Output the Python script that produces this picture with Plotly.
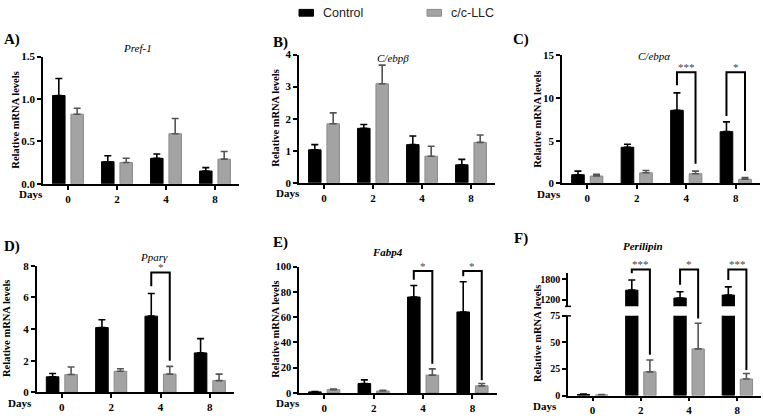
import plotly.graph_objects as go

W, H = 763, 419
days = ["0", "2", "4", "8"]

# ---------------- data ----------------
# A) Pref-1
pref1_ctrl = [1.04, 0.26, 0.30, 0.15]
pref1_ctrl_err = [0.20, 0.07, 0.05, 0.04]
pref1_llc = [0.82, 0.25, 0.59, 0.29]
pref1_llc_err = [0.07, 0.05, 0.18, 0.09]

# B) C/ebpβ
cebpb_ctrl = [1.03, 1.70, 1.19, 0.56]
cebpb_ctrl_err = [0.16, 0.12, 0.27, 0.17]
cebpb_llc = [1.84, 3.09, 0.83, 1.26]
cebpb_llc_err = [0.34, 0.58, 0.31, 0.23]

# C) C/ebpα
cebpa_ctrl = [1.02, 4.24, 8.56, 6.06]
cebpa_ctrl_err = [0.42, 0.34, 2.04, 1.14]
cebpa_llc = [0.87, 1.25, 1.14, 0.49]
cebpa_llc_err = [0.19, 0.27, 0.30, 0.19]

# D) Pparγ
pparg_ctrl = [0.98, 4.09, 4.81, 2.49]
pparg_ctrl_err = [0.21, 0.49, 1.43, 0.90]
pparg_llc = [1.12, 1.33, 1.15, 0.74]
pparg_llc_err = [0.48, 0.16, 0.49, 0.41]

# E) Fabp4
fabp4_ctrl = [0.8, 7.4, 75.9, 64.1]
fabp4_ctrl_err = [0.3, 2.9, 9.2, 23.9]
fabp4_llc = [2.6, 1.5, 14.1, 5.6]
fabp4_llc_err = [0.5, 0.6, 4.9, 1.8]

# F) Perilipin
plin_ctrl = [1.0, 1481, 1248, 1335]
plin_ctrl_err = [0.3, 300, 184, 243]
plin_llc = [0.6, 22.3, 43.9, 15.5]
plin_llc_err = [0.3, 11.2, 24.1, 5.2]

# significance brackets (day index, bracket top, left-leg end, right-leg end, label)
cebpa_sig_idx = [2, 3]
cebpa_sig_top = [13.0, 13.0]
cebpa_sig_left = [11.5, 7.9]
cebpa_sig_right = [2.3, 1.45]
cebpa_sig_label = ["***", "*"]

pparg_sig_idx = [2]
pparg_sig_top = [7.57]
pparg_sig_left = [6.7]
pparg_sig_right = [2.0]
pparg_sig_label = ["*"]

fabp4_sig_idx = [2, 3]
fabp4_sig_top = [96.6, 96.6]
fabp4_sig_left = [89.6, 92.3]
fabp4_sig_right = [23.1, 10.0]
fabp4_sig_label = ["*", "*"]

plin_sig_idx = [1, 2, 3]
plin_sig_top = [2095, 2095, 2095]      # upper (broken) axis
plin_sig_left = [1980, 1637, 1782]     # upper axis
plin_sig_right = [38.4, 72.5, 24.0]    # lower axis
plin_sig_label = ["***", "*", "***"]

# ---------------- styling / geometry ----------------
SERIF = "Liberation Serif, Times New Roman, serif"
SANS = "Liberation Sans, Arial, sans-serif"
BLACK = "#000000"
GREY = "#a3a3a3"
GREY_LINE = "#8a8a8a"
GREY_ERR = "#555555"
STAR = "#444444"
BAR_W = 0.255
OFF_CTRL = -0.315
OFF_LLC = 0.06
C_CTRL = OFF_CTRL + BAR_W / 2
C_LLC = OFF_LLC + BAR_W / 2
X_RANGE = [-0.51, 3.49]


def X(p):
    return p / W


def Y(p):
    return 1 - p / H


fig = go.Figure()


def add_bars(xa, ya, ctrl, ctrl_err, llc, llc_err):
    fig.add_trace(go.Bar(
        x=days, y=ctrl, width=BAR_W, offset=OFF_CTRL, xaxis=xa, yaxis=ya,
        name="Control", showlegend=False,
        marker=dict(color=BLACK, line=dict(color=BLACK, width=1)),
        error_y=dict(type="data", array=ctrl_err, arrayminus=[0] * len(ctrl),
                     symmetric=False, color=BLACK, thickness=1.6, width=3.5)))
    fig.add_trace(go.Bar(
        x=days, y=llc, width=BAR_W, offset=OFF_LLC, xaxis=xa, yaxis=ya,
        name="c/c-LLC", showlegend=False,
        marker=dict(color=GREY, line=dict(color=GREY_LINE, width=1)),
        error_y=dict(type="data", array=llc_err, arrayminus=[0] * len(llc),
                     symmetric=False, color=GREY_ERR, thickness=1.6, width=3.5)))


def ax_style(size=11):
    return dict(showline=True, linecolor=BLACK, linewidth=1.5, ticks="outside",
                ticklen=4, tickwidth=1.5, tickcolor=BLACK, showgrid=False,
                zeroline=False, fixedrange=True,
                tickfont=dict(family=SERIF, size=size, color=BLACK, weight="bold"))


annotations = []
shapes = []

# panel geometry in pixels: x-domain, y-domain(top,bottom)
panels = [
    dict(n="", letter="A)", title="<i>Pref-1</i>", xd=(43, 239), yd=(52, 183),
         yr=[0, 1.5], tv=[0, 0.5, 1.0, 1.5], tt=["0.0", "0.5", "1.0", "1.5"],
         data=(pref1_ctrl, pref1_ctrl_err, pref1_llc, pref1_llc_err),
         lpos=(2, 35), tpos=(137, 43), ytx=15.5, fs=11, days_x=45),
    dict(n="2", letter="B)", title="<i>C/ebpβ</i>", xd=(299, 495), yd=(50, 182),
         yr=[0, 4], tv=[0, 1, 2, 3, 4], tt=None,
         data=(cebpb_ctrl, cebpb_ctrl_err, cebpb_llc, cebpb_llc_err),
         lpos=(271, 38), tpos=(393, 54), ytx=276, fs=11, days_x=301.5),
    dict(n="3", letter="C)", title="<i>C/ebpα</i>", xd=(562, 760), yd=(50.7, 182.7),
         yr=[0, 15], tv=[0, 5, 10, 15], tt=None,
         data=(cebpa_ctrl, cebpa_ctrl_err, cebpa_llc, cebpa_llc_err),
         lpos=(511, 35), tpos=(654, 51), ytx=537.5, fs=11, days_x=563),
    dict(n="4", letter="D)", title="<i>Pparγ</i>", xd=(36.7, 234), yd=(267.3, 397.7),
         yr=[0, 8], tv=[0, 2, 4, 6, 8], tt=None,
         data=(pparg_ctrl, pparg_ctrl_err, pparg_llc, pparg_llc_err),
         lpos=(1.5, 248), tpos=(154, 258), ytx=7, fs=11, days_x=33.5),
    dict(n="5", letter="E)", title="<b><i>Fabp4</i></b>", xd=(299, 496.7), yd=(268.3, 398.3),
         yr=[0, 100], tv=[0, 20, 40, 60, 80, 100], tt=None,
         data=(fabp4_ctrl, fabp4_ctrl_err, fabp4_llc, fabp4_llc_err),
         lpos=(271, 243), tpos=(387, 253), ytx=276, fs=10.5, days_x=301.5),
    dict(n="6", letter="F)", title="<b><i>Perilipin</i></b>", xd=(568, 761), yd=(319, 401),
         yr=[0, 75], tv=[0, 25, 50, 75], tt=None,
         data=(plin_ctrl, plin_ctrl_err, plin_llc, plin_llc_err),
         lpos=(512, 239), tpos=(643, 247.5), ytx=537, fs=10, days_x=558.5),
]

F_UP = (274.5, 309.2)
F_UP_R = [1000, 2000]

layout_axes = {}
for p in panels:
    n = p["n"]
    xa, ya = "x" + n, "y" + n
    add_bars(xa, ya, *p["data"])
    xs = ax_style(11)
    xs.update(domain=[X(p["xd"][0]), X(p["xd"][1])], range=X_RANGE, anchor=ya,
              type="category", categoryorder="array", categoryarray=days)
    ys = ax_style(p["fs"])
    ys.update(domain=[Y(p["yd"][1]), Y(p["yd"][0])], range=p["yr"], anchor=xa,
              tickvals=p["tv"])
    if p["tt"]:
        ys["ticktext"] = p["tt"]
    layout_axes["xaxis" + n] = xs
    layout_axes["yaxis" + n] = ys

    annotations.append(dict(text="<b>%s</b>" % p["letter"], xref="paper", yref="paper",
                            x=X(p["lpos"][0]), y=Y(p["lpos"][1]), xanchor="left",
                            yanchor="middle", showarrow=False,
                            font=dict(family=SERIF, size=15, color=BLACK)))
    annotations.append(dict(text=p["title"], xref="paper", yref="paper",
                            x=X(p["tpos"][0]), y=Y(p["tpos"][1]), xanchor="center",
                            yanchor="middle", showarrow=False,
                            font=dict(family=SERIF, size=11, color=BLACK)))
    ytop = p["yd"][0] if n != "6" else F_UP[0]
    annotations.append(dict(text="<b>Relative mRNA levels</b>", xref="paper", yref="paper",
                            x=X(p["ytx"]), y=Y((ytop + p["yd"][1]) / 2), textangle=-90,
                            xanchor="center", yanchor="middle", showarrow=False,
                            font=dict(family=SERIF, size=10.5, color=BLACK)))
    annotations.append(dict(text="<b>Days</b>", xref="paper", yref="paper",
                            x=X(p["days_x"]), y=Y(p["yd"][1] + 10.5), xanchor="right",
                            yanchor="middle", showarrow=False,
                            font=dict(family=SERIF, size=11, color=BLACK)))

# F: upper segment of broken axis
fig.add_trace(go.Bar(
    x=days, y=plin_ctrl, width=BAR_W, offset=OFF_CTRL, xaxis="x6", yaxis="y7",
    name="Control", showlegend=False,
    marker=dict(color=BLACK, line=dict(color=BLACK, width=1)),
    error_y=dict(type="data", array=plin_ctrl_err, arrayminus=[0] * 4,
                 symmetric=False, color=BLACK, thickness=1.6, width=3.5)))
ys7 = ax_style(10)
ys7.update(domain=[Y(F_UP[1]), Y(F_UP[0])], range=F_UP_R, anchor="x6",
           tickvals=[1200, 1800])
layout_axes["yaxis7"] = ys7


# brackets for panels with one y axis
def brackets(xa, ya, idx, top, left, right, labels):
    for i, t, l, r, lab in zip(idx, top, left, right, labels):
        xl, xr = i + C_CTRL, i + C_LLC
        shapes.append(dict(type="path", xref=xa, yref=ya,
                           path="M %f,%f L %f,%f L %f,%f L %f,%f" % (xl, l, xl, t, xr, t, xr, r),
                           line=dict(color=BLACK, width=2)))
        annotations.append(dict(text=lab, xref=xa, yref=ya, x=(xl + xr) / 2, y=t,
                                xanchor="center", yanchor="bottom", yshift=-3,
                                showarrow=False,
                                font=dict(family=SERIF, size=11, color=STAR)))


brackets("x3", "y3", cebpa_sig_idx, cebpa_sig_top, cebpa_sig_left, cebpa_sig_right, cebpa_sig_label)
brackets("x4", "y4", pparg_sig_idx, pparg_sig_top, pparg_sig_left, pparg_sig_right, pparg_sig_label)
brackets("x5", "y5", fabp4_sig_idx, fabp4_sig_top, fabp4_sig_left, fabp4_sig_right, fabp4_sig_label)


# F brackets span both segments of the broken axis -> map values to paper
def f_lower(v):
    d0, d1 = panels[5]["yd"][1], panels[5]["yd"][0]
    r0, r1 = panels[5]["yr"]
    return Y(d0 + (v - r0) / (r1 - r0) * (d1 - d0))


def f_upper(v):
    d0, d1 = F_UP[1], F_UP[0]
    r0, r1 = F_UP_R
    return Y(d0 + (v - r0) / (r1 - r0) * (d1 - d0))


for i, t, l, r, lab in zip(plin_sig_idx, plin_sig_top, plin_sig_left, plin_sig_right, plin_sig_label):
    xl, xr = i + C_CTRL, i + C_LLC
    shapes.append(dict(type="path", xref="x6", yref="paper",
                       path="M %f,%f L %f,%f L %f,%f L %f,%f" % (
                           xl, f_upper(l), xl, f_upper(t), xr, f_upper(t), xr, f_lower(r)),
                       line=dict(color=BLACK, width=2)))
    annotations.append(dict(text=lab, xref="x6", yref="paper", x=(xl + xr) / 2, y=f_upper(t),
                            xanchor="center", yanchor="bottom", yshift=-3, showarrow=False,
                            font=dict(family=SERIF, size=11, color=STAR)))

# axis-break marks on F
fx = panels[5]["xd"][0]
shapes.append(dict(type="line", xref="paper", yref="paper", x0=X(fx - 3), x1=X(fx + 3),
                   y0=Y(panels[5]["yd"][0]), y1=Y(panels[5]["yd"][0]),
                   line=dict(color=BLACK, width=1.5)))
shapes.append(dict(type="line", xref="paper", yref="paper", x0=X(fx - 3), x1=X(fx + 3),
                   y0=Y(F_UP[1]), y1=Y(F_UP[1]), line=dict(color=BLACK, width=1.5)))

# legend (drawn)
legend_names = ["Control", "c/c-LLC"]
legend_cols = [BLACK, GREY]
legend_x = [299, 427]
for name, col, lx in zip(legend_names, legend_cols, legend_x):
    shapes.append(dict(type="rect", xref="paper", yref="paper", x0=X(lx), x1=X(lx + 14.5),
                       y0=Y(10.5), y1=Y(3.5), fillcolor=col,
                       line=dict(color=BLACK if col == BLACK else GREY_LINE, width=1)))
    annotations.append(dict(text=name, xref="paper", yref="paper", x=X(lx + 22), y=Y(7),
                            xanchor="left", yanchor="middle", showarrow=False,
                            font=dict(family=SANS, size=12.5, color="#222222")))

fig.update_layout(
    width=W, height=H, autosize=False,
    margin=dict(l=0, r=0, t=0, b=0),
    paper_bgcolor="white", plot_bgcolor="white",
    barmode="overlay", showlegend=False,
    annotations=annotations, shapes=shapes,
    **layout_axes,
)

fig.write_html("out.html", config={"displayModeBar": False},
               post_script="document.body.style.margin='0';document.body.style.overflow='hidden';")
